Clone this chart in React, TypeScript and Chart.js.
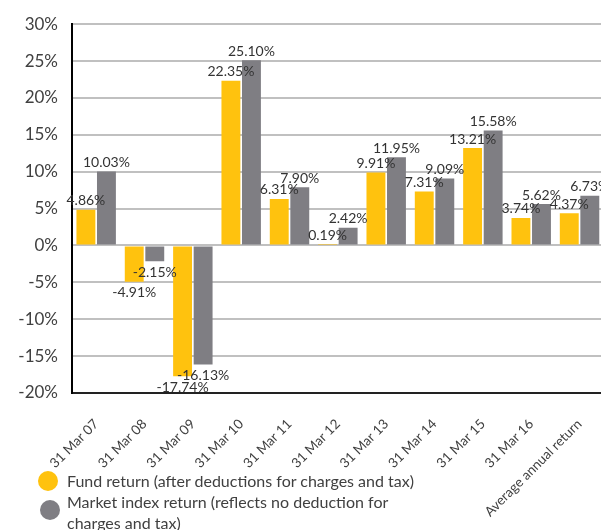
import React, { useEffect, useRef } from "react";
import { Chart, registerables } from "chart.js";

Chart.register(...registerables);

const categories = [
  "31 Mar 07", "31 Mar 08", "31 Mar 09", "31 Mar 10", "31 Mar 11", "31 Mar 12",
  "31 Mar 13", "31 Mar 14", "31 Mar 15", "31 Mar 16", "Average annual return",
];
const fundReturn = [4.86, -4.91, -17.74, 22.35, 6.31, 0.19, 9.91, 7.31, 13.21, 3.74, 4.37];
const marketReturn = [10.03, -2.15, -16.13, 25.1, 7.9, 2.42, 11.95, 9.09, 15.58, 5.62, 6.73];
const seriesNames = [
  "Fund return (after deductions for charges and tax)",
  "Market index return (reflects no deduction for charges and tax)",
];
const yMin = -20;
const yMax = 30;
const yStep = 5;

const YELLOW = "#FFC20E";
const GRAY = "#7F7E83";
const TEXT = "#404040";
const FONT = "Lato, 'Open Sans', sans-serif";

const labelPlugin = {
  id: "barLabels",
  afterDatasetsDraw(chart: any) {
    const ctx = chart.ctx;
    ctx.save();
    ctx.font = `14px ${FONT}`;
    ctx.fillStyle = "#333333";
    ctx.textAlign = "center";
    chart.data.datasets.forEach((ds: any, di: number) => {
      const meta = chart.getDatasetMeta(di);
      meta.data.forEach((el: any, i: number) => {
        const v = ds.data[i];
        const txt = v.toFixed(2) + "%";
        if (v >= 0) {
          ctx.textBaseline = "bottom";
          ctx.fillText(txt, el.x, el.y - 2);
        } else {
          ctx.textBaseline = "top";
          ctx.fillText(txt, el.x, el.y + 4);
        }
      });
    });
    ctx.restore();
  },
};

export default function App() {
  const ref = useRef<HTMLCanvasElement>(null);
  useEffect(() => {
    if (!ref.current) return;
    const chart = new Chart(ref.current, {
      type: "bar",
      data: {
        labels: categories,
        datasets: [
          { label: seriesNames[0], data: fundReturn, backgroundColor: YELLOW },
          { label: seriesNames[1], data: marketReturn, backgroundColor: GRAY },
        ],
      },
      options: {
        responsive: false,
        animation: false,
        devicePixelRatio: 1,
        layout: { padding: { top: 23, right: 0, left: 0, bottom: 0 } },
        datasets: { bar: { categoryPercentage: 0.85, barPercentage: 0.92 } },
        plugins: { legend: { display: false }, tooltip: { enabled: false } },
        scales: {
          x: {
            grid: { display: false },
            border: { display: true, color: "#222", width: 2 },
            ticks: {
              color: TEXT,
              font: { family: FONT, size: 13.5 },
              maxRotation: 45,
              minRotation: 45,
              autoSkip: false,
              padding: 15,
            },
            afterFit(scale: any) {
              scale.height = 137;
            },
          },
          y: {
            min: yMin,
            max: yMax,
            grid: {
              color: "#C0C0C0",
              lineWidth: 2,
              drawTicks: false,
            },
            border: { display: true, color: "#000", width: 2 },
            ticks: {
              stepSize: yStep,
              color: TEXT,
              font: { family: FONT, size: 17 },
              padding: 14,
              callback: (v: any) => v + "%",
            },
            afterFit(scale: any) {
              scale.width = 72;
            },
          },
        },
      },
      plugins: [labelPlugin],
    });
    return () => chart.destroy();
  }, []);

  const legendText: React.CSSProperties = {
    position: "absolute",
    left: 67,
    fontFamily: FONT,
    fontSize: 16,
    color: TEXT,
    lineHeight: "21px",
    whiteSpace: "nowrap",
  };
  const dot = (color: string, cx: number, cy: number): React.CSSProperties => ({
    position: "absolute",
    left: cx - 10,
    top: cy - 10,
    width: 20,
    height: 20,
    borderRadius: "50%",
    background: color,
  });

  return (
    <div
      style={{
        position: "fixed",
        left: 0,
        top: 0,
        width: 601,
        height: 530,
        overflow: "hidden",
        background: "#fff",
      }}
    >
      <canvas ref={ref} width={606} height={530} style={{ display: "block" }} />
      <div style={dot(YELLOW, 47.5, 481)} />
      <div style={{ ...legendText, top: 470 }}>{seriesNames[0]}</div>
      <div style={dot(GRAY, 50, 510)} />
      <div style={{ ...legendText, top: 491 }}>
        Market index return (reflects no deduction for
        <br />
        charges and tax)
      </div>
    </div>
  );
}
